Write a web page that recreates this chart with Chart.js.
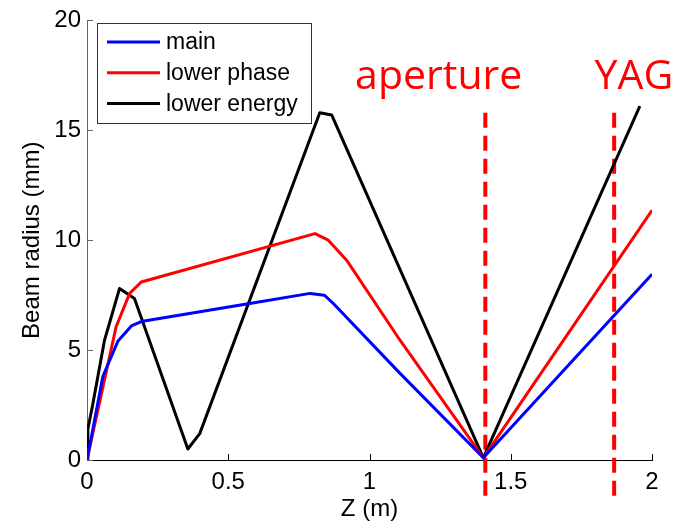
<!DOCTYPE html>
<html>
<head>
<meta charset="utf-8">
<script src="https://cdn.jsdelivr.net/npm/chart.js@4/dist/chart.umd.min.js"></script>
<style>
  html, body { margin: 0; padding: 0; background: #fff; }
  #wrap { width: 684px; height: 524px; }
</style>
</head>
<body>
<div id="wrap"><canvas id="myChart" width="684" height="524"></canvas></div>
<script>
// beam radius along z for the three cases
var zMain = [0, 0.056, 0.109, 0.157, 0.192, 0.565, 0.79, 0.84, 0.872, 1.108, 1.403, 2.0];
var rMain = [0, 3.8, 5.4, 6.1, 6.3, 7.1, 7.58, 7.5, 7.12, 3.94, 0.1, 8.45];

var zPhase = [0, 0.056, 0.103, 0.151, 0.192, 0.807, 0.854, 0.919, 1.108, 1.403, 2.0];
var rPhase = [0, 3.3, 6.06, 7.58, 8.1, 10.3, 10.0, 9.09, 5.45, 0.1, 11.36];

var zEnergy = [0, 0.003, 0.02, 0.062, 0.115, 0.168, 0.357, 0.399, 0.824, 0.866, 1.403, 1.957];
var rEnergy = [0, 1.4, 2.5, 5.45, 7.8, 7.35, 0.5, 1.2, 15.8, 15.7, 0.1, 16.1];

// element positions (m) and the extent of their marker lines (mm)
var markerNames = ['aperture', 'YAG'];
var markerZ = [1.41, 1.866];
var markerTop = 15.8;
var markerBottom = -1.7;

var xTicks = [0, 0.5, 1, 1.5, 2];
var yTicks = [0, 5, 10, 15, 20];

function pts(xs, ys) {
    return xs.map(function (v, i) { return { x: v, y: ys[i] }; });
}

var series = [
    { label: 'main', color: '#0000ff', data: pts(zMain, rMain) },
    { label: 'lower phase', color: '#ff0000', data: pts(zPhase, rPhase) },
    { label: 'lower energy', color: '#000000', data: pts(zEnergy, rEnergy) }
];

var datasets = series.map(function (s) {
    return {
        label: s.label,
        data: s.data,
        borderColor: s.color,
        borderWidth: 3,
        pointRadius: 0,
        tension: 0,
        borderJoinStyle: 'round',
        fill: false
    };
});

markerZ.forEach(function (z, i) {
    datasets.push({
        label: markerNames[i],
        data: [{ x: z, y: markerTop }, { x: z, y: markerBottom }],
        borderColor: '#ff0000',
        borderWidth: 4,
        borderDash: [15, 8],
        pointRadius: 0,
        clip: false
    });
});

var tickFont = { family: 'Liberation Sans, Arial, sans-serif', size: 24 };

// inward ticks, boxed legend and the element names
var overlay = {
    id: 'overlay',
    beforeDatasetsDraw: function (chart) {
        var ctx = chart.ctx, x = chart.scales.x, y = chart.scales.y;
        var a = chart.chartArea;
        ctx.save();
        ctx.lineWidth = 1;
        ctx.strokeStyle = '#000';
        xTicks.forEach(function (v) {
            var px = Math.round(x.getPixelForValue(v)) + 0.5;
            ctx.beginPath();
            ctx.moveTo(px, a.bottom);
            ctx.lineTo(px, a.bottom - 6);
            ctx.stroke();
        });
        ctx.strokeStyle = '#666';
        yTicks.forEach(function (v) {
            var py = Math.round(y.getPixelForValue(v)) + 0.5;
            ctx.beginPath();
            ctx.moveTo(a.left, py);
            ctx.lineTo(a.left + 6, py);
            ctx.stroke();
        });
        ctx.restore();
    },
    afterDraw: function (chart) {
        var ctx = chart.ctx, x = chart.scales.x, y = chart.scales.y;
        ctx.save();

        // legend
        var bx = 97.5, by = 23.5, bw = 214, bh = 100;
        ctx.fillStyle = '#fff';
        ctx.fillRect(bx, by, bw, bh);
        ctx.strokeStyle = '#333';
        ctx.lineWidth = 1;
        ctx.strokeRect(bx, by, bw, bh);
        ctx.font = '23px Liberation Sans, Arial, sans-serif';
        ctx.textBaseline = 'middle';
        ctx.textAlign = 'left';
        series.forEach(function (s, i) {
            var ly = 42 + i * 30.8;
            ctx.strokeStyle = s.color;
            ctx.lineWidth = 3;
            ctx.beginPath();
            ctx.moveTo(107, ly);
            ctx.lineTo(160, ly);
            ctx.stroke();
            ctx.fillStyle = '#000';
            ctx.fillText(s.label, 166, ly + 1);
        });

        // element names above the marker lines
        ctx.font = '41px "Open Sans", sans-serif';
        ctx.fillStyle = '#ff0000';
        ctx.textBaseline = 'alphabetic';
        ctx.textAlign = 'center';
        var nameZ = [1.245, 1.936];
        markerNames.forEach(function (n, i) {
            ctx.fillText(n, x.getPixelForValue(nameZ[i]), y.getPixelForValue(16.86));
        });
        ctx.restore();
    }
};

var ctx = document.getElementById('myChart').getContext('2d');
var myChart = new Chart(ctx, {
    type: 'line',
    data: { datasets: datasets },
    plugins: [overlay],
    options: {
        responsive: false,
        animation: false,
        layout: { padding: { top: 20, right: 32, left: 0, bottom: 0 } },
        plugins: {
            legend: { display: false },
            tooltip: { enabled: false }
        },
        scales: {
            x: {
                type: 'linear',
                min: 0,
                max: 2,
                afterFit: function (s) { s.height = 64; },
                afterBuildTicks: function (s) { s.ticks = xTicks.map(function (v) { return { value: v }; }); },
                grid: { display: false, drawTicks: false },
                border: { display: true, color: '#000', width: 1 },
                ticks: {
                    color: '#000',
                    font: tickFont,
                    padding: 8,
                    maxRotation: 0,
                    callback: function (v) { return String(v); }
                },
                title: {
                    display: true,
                    text: 'Z (m)',
                    color: '#000',
                    font: { family: 'Liberation Sans, Arial, sans-serif', size: 24 },
                    padding: { top: 0, bottom: 0 }
                }
            },
            y: {
                type: 'linear',
                min: 0,
                max: 20,
                afterFit: function (s) { s.width = 87; },
                afterBuildTicks: function (s) { s.ticks = yTicks.map(function (v) { return { value: v }; }); },
                grid: { display: false, drawTicks: false },
                border: { display: true, color: '#666', width: 1 },
                ticks: {
                    color: '#000',
                    font: tickFont,
                    padding: 6,
                    callback: function (v) { return String(v); }
                },
                title: {
                    display: true,
                    text: 'Beam radius (mm)',
                    color: '#000',
                    font: { family: 'Liberation Sans, Arial, sans-serif', size: 24 },
                    padding: { top: 18, bottom: 0 }
                }
            }
        }
    }
});
</script>
</body>
</html>
